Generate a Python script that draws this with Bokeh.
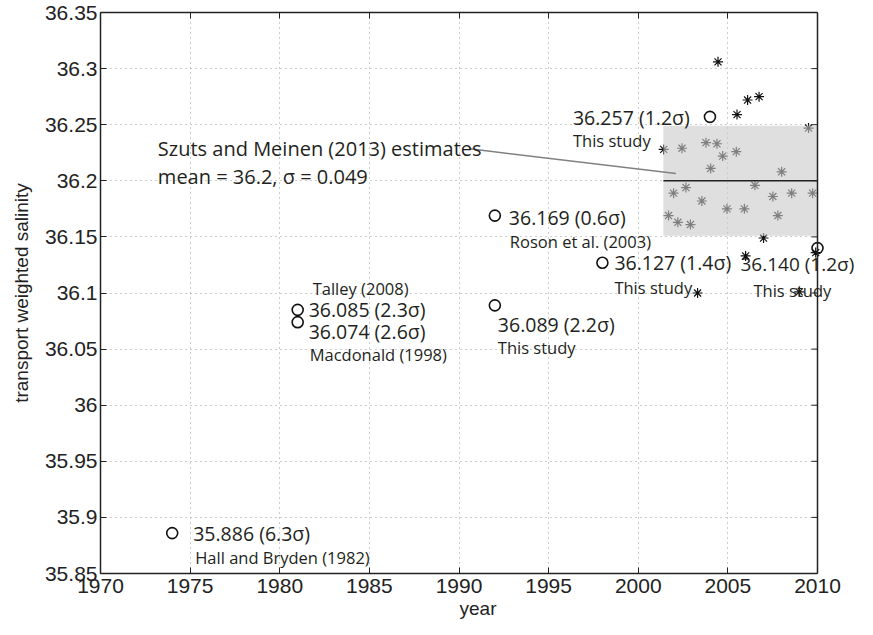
from bokeh.plotting import figure
from bokeh.models import FixedTicker, LinearAxis, Range1d, Label, Span, Title
from bokeh.embed import file_html
from bokeh.resources import INLINE

# ---------------- data ----------------
circle_years = [1974, 1981, 1981, 1992, 1992, 1998, 2004, 2010]
circle_salinity = [35.886, 36.085, 36.074, 36.169, 36.089, 36.127, 36.257, 36.140]
circle_sigma = ["6.3", "2.3", "2.6", "0.6", "2.2", "1.4", "1.2", "1.2"]
circle_source = ["Hall and Bryden (1982)", "Talley (2008)", "Macdonald (1998)",
                 "Roson et al. (2003)", "This study", "This study",
                 "This study", "This study"]

star_years = [2004.45, 2005.51, 2006.10, 2006.74, 2009.50, 2001.42, 2002.44,
              2003.78, 2004.39, 2004.71, 2005.47, 2004.04, 2008.00, 2001.97,
              2002.66, 2006.51, 2003.55, 2007.51, 2008.56, 2009.73, 2004.95,
              2005.92, 2001.69, 2002.21, 2002.91, 2007.79, 2006.99, 2005.99,
              2003.31, 2008.98, 2009.90]
star_salinity = [36.306, 36.259, 36.272, 36.275, 36.247, 36.228, 36.229,
                 36.234, 36.233, 36.222, 36.226, 36.211, 36.208, 36.189,
                 36.194, 36.196, 36.182, 36.186, 36.189, 36.189, 36.175,
                 36.175, 36.169, 36.163, 36.161, 36.169, 36.149, 36.133,
                 36.100, 36.101, 36.136]

sm_start = 2001.4
sm_end = 2010.0
sm_mean = 36.2
sm_sigma = 0.049
annotation_lines = ["Szuts and Meinen (2013) estimates",
                    "mean = 36.2, \u03c3 = 0.049"]

x_min, x_max = 1970, 2010
y_min, y_max = 35.85, 36.35
x_ticks = [1970, 1975, 1980, 1985, 1990, 1995, 2000, 2005, 2010]
x_tick_labels = ["1970", "1975", "1980", "1985", "1990", "1995", "2000", "2005", "2010"]
y_ticks = [35.85, 35.9, 35.95, 36.0, 36.05, 36.1, 36.15, 36.2, 36.25, 36.3, 36.35]
y_tick_labels = ["35.85", "35.9", "35.95", "36", "36.05", "36.1", "36.15",
                 "36.2", "36.25", "36.3", "36.35"]
x_label = "year"
y_label = "transport weighted salinity"

# ---------------- layout / style ----------------
W, H = 857, 619
BORDER_L, BORDER_R, BORDER_T, BORDER_B = 100, 2, 12, 46
PX_PER_YEAR = 717.0 / (x_max - x_min)          # axes box is 717 px wide
FRAME_W = W - BORDER_L - BORDER_R
x_view_end = x_min + FRAME_W / PX_PER_YEAR      # room right of the box for labels
extra_px = (x_view_end - x_max) * PX_PER_YEAR

# label offsets in pixels relative to each circle (right = +x, up = +y)
val_dx = [21, 11, 11, 14, 3, 12, -137, -77]
val_dy = [0, 0, -9, -2, -19, 0, -1, -16]
val_size = ["19.5px"] * 7 + ["19px"]
src_dx = [23, 15, 12, 15, 3, 12, -137, -64]
src_dy = [-24, 21, -32, -26, -42, -25, -24, -42]

TXT = "#231f20"
AXC = "#222222"
LABEL_FONT = "Open Sans"
AX_FONT = "Liberation Sans"

p = figure(width=W, height=H,
           x_range=Range1d(x_min, x_view_end), y_range=Range1d(y_min, y_max),
           output_backend="svg", toolbar_location=None,
           min_border_left=BORDER_L, min_border_right=BORDER_R,
           min_border_top=BORDER_T, min_border_bottom=BORDER_B)
p.outline_line_color = None
p.background_fill_color = "white"

xt = FixedTicker(ticks=x_ticks)
yt = FixedTicker(ticks=y_ticks)

bottom_axis = p.xaxis[0]
left_axis = p.yaxis[0]
bottom_axis.ticker = xt
left_axis.ticker = yt
bottom_axis.major_label_overrides = {t: l for t, l in zip(x_ticks, x_tick_labels)}
left_axis.major_label_overrides = {t: l for t, l in zip(y_ticks, y_tick_labels)}
left_axis.axis_label = y_label

top_axis = LinearAxis(ticker=xt)

for ax in [bottom_axis, left_axis, top_axis]:
    ax.axis_line_color = AXC
    ax.axis_line_width = 1.5
    ax.major_tick_line_color = AXC
    ax.major_tick_line_width = 1
    ax.major_tick_in = 6
    ax.major_tick_out = 0
    ax.minor_tick_in = 0
    ax.minor_tick_out = 0
    ax.major_label_text_font = AX_FONT
    ax.major_label_text_font_size = "21px"
    ax.major_label_text_color = AXC
    ax.axis_label_text_font = AX_FONT
    ax.axis_label_text_font_size = "19px"
    ax.axis_label_text_font_style = "normal"
    ax.axis_label_text_color = AXC
    ax.major_label_standoff = 3
    ax.axis_label_standoff = 2

left_axis.axis_label_standoff = 10
bottom_axis.bounds = (x_min, x_max)
top_axis.bounds = (x_min, x_max)
bottom_axis.major_label_standoff = 5
top_axis.major_label_text_font_size = "0px"
top_axis.major_label_standoff = 0
p.add_layout(top_axis, "above")

# x-axis title centred under the axes box (not under the label margin)
p.add_layout(Title(text=x_label, align="center", offset=-extra_px / 2.0,
                   text_font=AX_FONT, text_font_size="19px",
                   text_font_style="normal", text_color=AXC, standoff=0),
             "below")

p.xgrid.ticker = xt
p.ygrid.ticker = yt
for g in [p.xgrid[0], p.ygrid[0]]:
    g.grid_line_color = "#9a9a9a"
    g.grid_line_dash = "1 4"
    g.grid_line_width = 1

# blank out the area right of the axes box (keeps labels unclipped)
p.quad(left=[x_max], right=[x_view_end], bottom=[y_min], top=[y_max],
       fill_color="white", line_color=None)

# right-hand box edge with inward ticks
p.add_layout(Span(location=x_max, dimension="height", line_color=AXC, line_width=1.5))
tick_len = 6.0 / PX_PER_YEAR
p.segment(x0=[x_max - tick_len] * len(y_ticks), x1=[x_max] * len(y_ticks),
          y0=y_ticks, y1=y_ticks, line_color=AXC, line_width=1)

# stars (individual estimates)
p.scatter(star_years, star_salinity, marker="asterisk", size=10,
          line_color="#111111", line_width=1.2)

# mean +/- sigma box, drawn translucent over the stars
p.quad(left=[sm_start], right=[sm_end],
       bottom=[sm_mean - sm_sigma], top=[sm_mean + sm_sigma],
       fill_color="#c9c9cc", fill_alpha=0.6, line_color=None)
p.line([sm_start, sm_end], [sm_mean, sm_mean], line_color=AXC, line_width=1.6)

# annotation leader line and text
ann_x = 1973.2
ann_y = [36.2285, 36.204]
p.line([1990.6, sm_start + 0.7], [36.2285, sm_mean + 0.0065],
       line_color="#808080", line_width=1.5)
for yy, tt in zip(ann_y, annotation_lines):
    p.add_layout(Label(x=ann_x, y=yy, text=tt, text_font=LABEL_FONT,
                       text_font_size="20px", text_color=TXT,
                       text_baseline="middle", text_align="left"))

# historical estimates
p.scatter(circle_years, circle_salinity, marker="circle", size=11,
          fill_color=None, line_color="#111111", line_width=1.6)

for yr, sal, sig, src, vdx, vdy, vs, sdx, sdy in zip(circle_years, circle_salinity,
                                                     circle_sigma, circle_source,
                                                     val_dx, val_dy, val_size,
                                                     src_dx, src_dy):
    p.add_layout(Label(x=yr, y=sal, text="%.3f (%s\u03c3)" % (sal, sig),
                       x_offset=vdx, y_offset=vdy,
                       text_font=LABEL_FONT, text_font_size=vs, text_color=TXT,
                       text_baseline="middle", text_align="left"))
    p.add_layout(Label(x=yr, y=sal, text=src,
                       x_offset=sdx, y_offset=sdy,
                       text_font=LABEL_FONT, text_font_size="16.5px", text_color=TXT,
                       text_baseline="middle", text_align="left"))

open("out.html", "w").write(file_html(p, INLINE))
